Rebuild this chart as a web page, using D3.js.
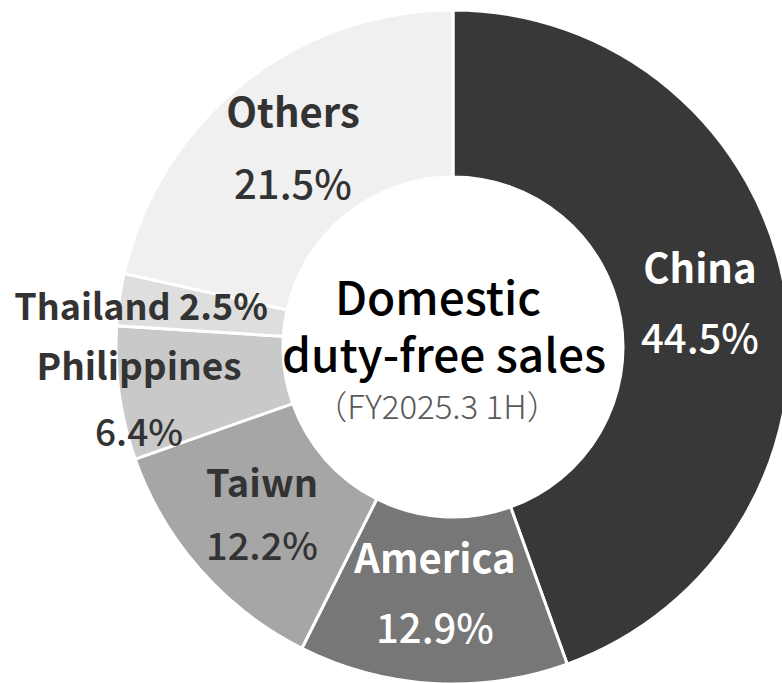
<!DOCTYPE html>
<html>
<head>
<meta charset="utf-8">
<script src="https://cdn.jsdelivr.net/npm/d3@7"></script>
<style>
  html, body { margin: 0; padding: 0; background: #fff; }
  svg { display: block; }
  text { font-family: "Noto Sans CJK JP", "Noto Sans", sans-serif; }
</style>
</head>
<body>
<svg id="chart" width="782" height="683"></svg>
<script>
// Regional share of domestic duty-free sales (%)
const regions = ["China", "America", "Taiwn", "Philippines", "Thailand", "Others"];
const shares = [44.5, 12.9, 12.2, 6.4, 2.5, 21.5];
const fills = ["#383838", "#777777", "#a6a6a6", "#c9c9c9", "#dedede", "#f0f0f0"];
const labelColors = ["#ffffff", "#ffffff", "#333333", "#333333", "#333333", "#333333"];

const centerTitle = ["Domestic", "duty-free sales"];
const centerSub = "（FY2025.3 1H）";

// Label placement for each slice: x, name baseline, value baseline
const labelLayout = [
  { x: 700, y1: 283, y2: 353, size: 40 },
  { x: 435, y1: 573, y2: 643, size: 40 },
  { x: 262, y1: 497, y2: 560, size: 38 },
  { x: 139, y1: 380, y2: 446, size: 37 },
  { x: 141, y1: 320, y2: null, size: 36 },
  { x: 293, y1: 127, y2: 199, size: 40 }
];

const svg = d3.select("#chart");
const cx = 453, cy = 347;
const g = svg.append("g").attr("transform", `translate(${cx},${cy})`);

const data = regions.map((r, i) => ({ region: r, value: shares[i], fill: fills[i], color: labelColors[i], layout: labelLayout[i] }));

const pie = d3.pie().value(d => d.value).sort(null).startAngle(0).endAngle(2 * Math.PI);
const arc = d3.arc().innerRadius(170).outerRadius(337);

g.selectAll("path.slice")
  .data(pie(data))
  .join("path")
  .attr("class", "slice")
  .attr("d", arc)
  .attr("fill", d => d.data.fill)
  .attr("stroke", "#ffffff")
  .attr("stroke-width", 3)
  .attr("stroke-linejoin", "miter");

// Slice labels
const labels = svg.append("g");
data.forEach(d => {
  const L = d.layout;
  const pct = d3.format(".1f")(d.value) + "%";
  if (L.y2 === null) {
    labels.append("text")
      .attr("x", L.x).attr("y", L.y1)
      .attr("text-anchor", "middle")
      .attr("fill", d.color)
      .style("font-size", L.size + "px")
      .style("font-weight", 700)
      .text(d.region + " " + pct);
  } else {
    labels.append("text")
      .attr("x", L.x).attr("y", L.y1)
      .attr("text-anchor", "middle")
      .attr("fill", d.color)
      .style("font-size", L.size + "px")
      .style("font-weight", 700)
      .text(d.region);
    labels.append("text")
      .attr("x", L.x).attr("y", L.y2)
      .attr("text-anchor", "middle")
      .attr("fill", d.color)
      .style("font-size", L.size + "px")
      .style("font-weight", 500)
      .text(pct);
  }
});

// Center caption
svg.append("text")
  .attr("x", 438).attr("y", 315)
  .attr("text-anchor", "middle")
  .attr("fill", "#000")
  .style("font-size", "46px")
  .style("font-weight", 500)
  .text(centerTitle[0]);
svg.append("text")
  .attr("x", 444).attr("y", 372)
  .attr("text-anchor", "middle")
  .attr("fill", "#000")
  .style("font-size", "46px")
  .style("font-weight", 500)
  .text(centerTitle[1]);
svg.append("text")
  .attr("x", 437).attr("y", 419)
  .attr("text-anchor", "middle")
  .attr("fill", "#595959")
  .style("font-size", "33px")
  .style("font-weight", 300)
  .text(centerSub);
</script>
</body>
</html>
